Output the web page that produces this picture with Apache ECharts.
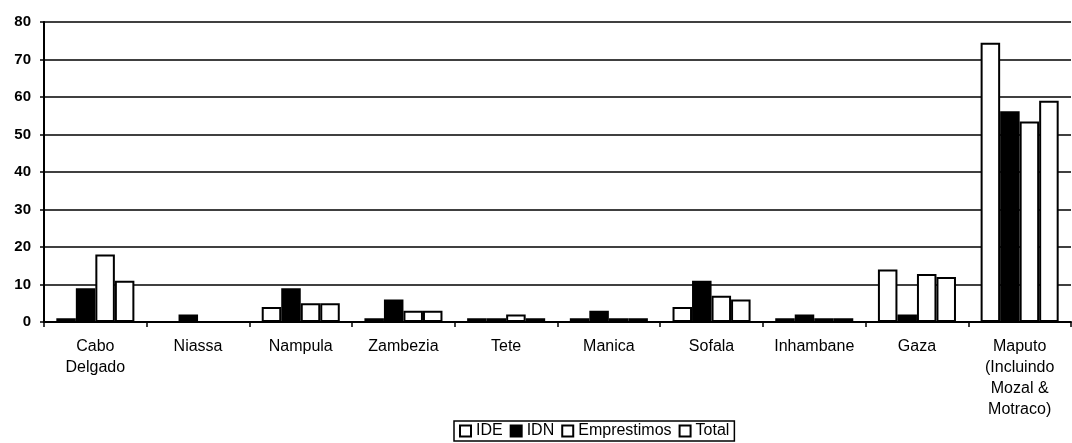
<!DOCTYPE html>
<html>
<head>
<meta charset="utf-8">
<script src="https://cdn.jsdelivr.net/npm/echarts@6/dist/echarts.min.js"></script>
<style>
  html, body { margin: 0; padding: 0; background: #fff; }
  #chart { width: 1072px; height: 443px; }
</style>
</head>
<body>
<div id="chart"></div>
<script>
// provincias
const categories = ["Cabo\nDelgado", "Niassa", "Nampula", "Zambezia", "Tete", "Manica", "Sofala", "Inhambane", "Gaza", "Maputo\n(Incluindo\nMozal &\nMotraco)"]
const ide = [1, 0, 4, 1, 1, 1, 4, 1, 14, 74.5]
const idn = [9, 2, 9, 6, 1, 3, 11, 2, 2, 56.2]
const emprestimos = [18, 0, 5, 3, 2, 1, 7, 1, 12.8, 53.5]
const total = [11, 0, 5, 3, 1, 1, 6, 1, 12, 59]

const chart = echarts.init(document.getElementById("chart"))
const font = "Liberation Sans, Arial, sans-serif"

function barSeries(name, data, fill) {
  return {
    name: name,
    type: "bar",
    data: data,
    barGap: "0%",
    barCategoryGap: "24%",
    itemStyle: { color: fill, borderColor: "#000", borderWidth: 2 },
  }
}

const option = {
  animation: false,
  textStyle: { fontFamily: font },
  grid: { left: 44, right: 1, top: 22, bottom: 121 },
  legend: {
    left: 454,
    bottom: 2,
    icon: "rect",
    itemWidth: 11,
    itemHeight: 11,
    itemGap: 7,
    padding: [2, 5],
    borderColor: "#000",
    borderWidth: 1.5,
    textStyle: { fontSize: 16, color: "#000", fontFamily: font, padding: [0, 0, 0, 0] },
    data: ["IDE", "IDN", "Emprestimos", "Total"],
  },
  xAxis: {
    type: "category",
    data: categories,
    axisLine: { lineStyle: { color: "#000", width: 2 } },
    axisTick: { show: true, length: 5, lineStyle: { color: "#000", width: 1.5 } },
    axisLabel: { color: "#000", fontSize: 16, lineHeight: 21, margin: 14, interval: 0 },
  },
  yAxis: {
    type: "value",
    min: 0,
    max: 80,
    interval: 10,
    axisLine: { show: true, lineStyle: { color: "#000", width: 2 } },
    axisTick: { show: true, length: 4, lineStyle: { color: "#000", width: 1.5 } },
    axisLabel: { color: "#000", fontSize: 15, fontWeight: "bold", margin: 13 },
    splitLine: { lineStyle: { color: "#000", width: 1.5 } },
  },
  series: [
    barSeries("IDE", ide, "#fff"),
    barSeries("IDN", idn, "#000"),
    barSeries("Emprestimos", emprestimos, "#fff"),
    barSeries("Total", total, "#fff"),
  ],
}
chart.setOption(option)
</script>
</body>
</html>
